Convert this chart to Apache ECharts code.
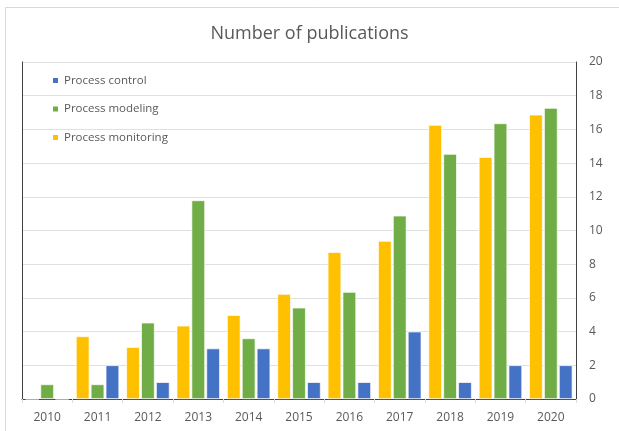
<!DOCTYPE html>
<html>
<head>
<meta charset="utf-8">
<script src="https://cdn.jsdelivr.net/npm/echarts@6/dist/echarts.min.js"></script>
<style>html,body{margin:0;padding:0;background:#fff}#c{width:619px;height:431px}</style>
</head>
<body>
<div id="c"></div>
<script>
const categories = ['2010','2011','2012','2013','2014','2015','2016','2017','2018','2019','2020'];
const monitoring = [0, 3.72, 3.08, 4.35, 4.98, 6.23, 8.72, 9.38, 16.26, 14.36, 16.87];
const modeling   = [0.87, 0.87, 4.53, 11.79, 3.6, 5.42, 6.35, 10.88, 14.54, 16.36, 17.27];
const control    = [0, 2, 1, 3, 3, 1, 1, 4, 1, 2, 2];
const yTicks = { min: 0, max: 20, interval: 2 };

const font = '"Open Sans", "Liberation Sans", sans-serif';
const txt = '#595959';
const chart = echarts.init(document.getElementById('c'));
chart.setOption({
  animation: false,
  textStyle: { fontFamily: font },
  graphic: [{ type: 'rect', shape: { x: 5.5, y: 7.5, width: 700, height: 500 }, style: { fill: 'none', stroke: '#d9d9d9', lineWidth: 1 }, silent: true }],
  title: { text: 'Number of publications', left: 'center', top: 20, textStyle: { fontFamily: font, fontSize: 18, fontWeight: 'normal', color: txt } },
  legend: {
    data: ['Process control', 'Process modeling', 'Process monitoring'],
    orient: 'vertical', left: 46, top: 67, itemGap: 11.5, itemWidth: 7, itemHeight: 7,
    icon: 'rect', textStyle: { fontFamily: font, fontSize: 11.5, color: txt, lineHeight: 17 }
  },
  grid: { left: 22, right: 43, top: 62, bottom: 32 },
  xAxis: [{
    type: 'category', data: categories,
    axisLine: { lineStyle: { color: '#d9d9d9' } },
    axisTick: { show: true, length: 4, lineStyle: { color: '#d9d9d9' } },
    axisLabel: { fontFamily: font, fontSize: 12, color: txt, margin: 13 }
  }, {
    type: 'category', data: categories, position: 'top',
    axisLine: { lineStyle: { color: '#404040' } }, axisTick: { show: false }, axisLabel: { show: false }
  }],
  yAxis: [{
    type: 'value', position: 'right', min: yTicks.min, max: yTicks.max, interval: yTicks.interval,
    axisLine: { show: true, lineStyle: { color: '#404040' } },
    axisTick: { show: false },
    axisLabel: { fontFamily: font, fontSize: 12, color: txt, margin: 13 },
    splitLine: { lineStyle: { color: '#e0e0e0' } }
  }, {
    type: 'value', position: 'left', min: yTicks.min, max: yTicks.max, interval: yTicks.interval,
    axisLine: { show: true, lineStyle: { color: '#404040' } },
    axisTick: { show: false }, axisLabel: { show: false }, splitLine: { show: false }
  }],
  series: [
    { name: 'Process monitoring', type: 'bar', data: monitoring, itemStyle: { color: '#FFC000', borderColor: '#fff', borderWidth: 0.7 }, barGap: '10%', barCategoryGap: '14%' },
    { name: 'Process modeling', type: 'bar', data: modeling, itemStyle: { color: '#70AD47', borderColor: '#fff', borderWidth: 0.7 }, barGap: '10%', barCategoryGap: '14%' },
    { name: 'Process control', type: 'bar', data: control, itemStyle: { color: '#4472C4', borderColor: '#fff', borderWidth: 0.7 }, barGap: '10%', barCategoryGap: '14%' }
  ]
});
</script>
</body>
</html>
